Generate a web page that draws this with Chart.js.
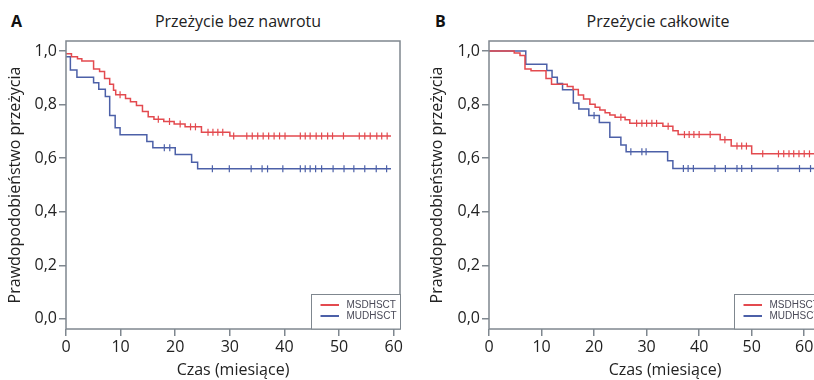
<!DOCTYPE html>
<html>
<head>
<meta charset="utf-8">
<script src="https://cdn.jsdelivr.net/npm/chart.js@4"></script>
<style>
    body { margin: 0; width: 814px; height: 380px; overflow: hidden; background: #fff; position: relative; }
    .panel { position: absolute; top: 0; height: 380px; }
    .letter { position: absolute; top: 10px; font: bold 16px 'Open Sans', sans-serif; color: #111; }
    .title { position: absolute; top: 10px; width: 240px; text-align: center; font: 16px 'Open Sans', sans-serif; color: #222; white-space: nowrap; }
</style>
</head>
<body>
<div class="letter" style="left:11px">A</div>
<div class="title" style="left:118px">Przeżycie bez nawrotu</div>
<div class="letter" style="left:435px">B</div>
<div class="title" style="left:538px">Przeżycie całkowite</div>
<div class="panel" style="left:0;width:410px"><canvas id="chartA" width="410" height="380"></canvas></div>
<div class="panel" style="left:422px;width:430px"><canvas id="chartB" width="430" height="380"></canvas></div>
<script>
// Przeżycie bez nawrotu (panel A)
const rfsTimeMsd = [0, 1.0, 2.1, 2.9, 5.05, 6.15, 7.06, 8.0, 8.7, 9.1, 10.9, 11.8, 12.9, 14.0, 15.05, 16.1, 17.9, 19.8, 21.8, 24.8, 30.0, 59.5];
const rfsSurvMsd = [0.99, 0.979, 0.971, 0.963, 0.933, 0.924, 0.897, 0.876, 0.854, 0.837, 0.823, 0.811, 0.797, 0.774, 0.755, 0.745, 0.737, 0.728, 0.717, 0.697, 0.683, 0.683];
const rfsCensMsd = [9.9, 16.9, 18.95, 20.9, 22.8, 23.7, 26.0, 26.9, 27.8, 28.7, 30.7, 33.1, 34.1, 35.1, 36.1, 37.1, 38.1, 39.1, 40.1, 42.9, 43.8, 44.7, 45.8, 46.8, 47.9, 48.8, 50.8, 53.7, 54.7, 55.7, 56.9, 57.8, 58.8];

const rfsTimeMud = [0, 0.8, 2.0, 5.05, 6.0, 7.2, 8.0, 9.0, 9.9, 14.8, 15.9, 20.0, 23.0, 24.1, 59.5];
const rfsSurvMud = [0.979, 0.929, 0.902, 0.882, 0.857, 0.830, 0.759, 0.714, 0.687, 0.662, 0.639, 0.614, 0.585, 0.560, 0.560];
const rfsCensMud = [18.0, 19.0, 26.8, 29.9, 33.9, 35.9, 36.9, 39.7, 42.9, 43.8, 44.7, 45.7, 46.8, 48.9, 50.9, 52.7, 54.7, 56.8, 58.7];

// Przeżycie całkowite (panel B)
const osTimeMsd = [0, 4.8, 5.9, 6.85, 8.0, 10.85, 11.9, 14.9, 16.0, 17.0, 18.0, 19.2, 20.2, 21.1, 22.1, 23.0, 24.0, 25.9, 26.8, 33.1, 35.0, 36.0, 44.0, 46.1, 50.0, 62.5];
const osSurvMsd = [1.0, 0.993, 0.983, 0.933, 0.926, 0.897, 0.876, 0.868, 0.856, 0.836, 0.821, 0.801, 0.790, 0.780, 0.770, 0.761, 0.753, 0.743, 0.730, 0.719, 0.702, 0.688, 0.669, 0.645, 0.616, 0.616];
const osCensMsd = [25.1, 28.1, 29.1, 30.0, 31.0, 31.9, 34.1, 37.2, 38.1, 39.0, 40.0, 42.1, 44.9, 47.2, 48.1, 49.0, 52.1, 55.1, 56.1, 57.1, 58.0, 59.0, 60.0, 61.0];

const osTimeMud = [0, 7.0, 11.0, 12.0, 13.0, 14.0, 16.05, 17.1, 19.0, 21.0, 23.0, 25.1, 26.1, 34.0, 35.0, 62.5];
const osSurvMud = [1.0, 0.951, 0.927, 0.902, 0.879, 0.855, 0.806, 0.784, 0.759, 0.733, 0.678, 0.649, 0.624, 0.590, 0.561, 0.561];
const osCensMud = [20.0, 27.0, 29.1, 29.9, 37.0, 37.9, 38.9, 43.0, 45.0, 47.2, 48.1, 50.0, 55.0, 59.1, 61.2];

const xTickValues = [0, 10, 20, 30, 40, 50, 60];
const yTickValues = [0, 0.2, 0.4, 0.6, 0.8, 1.0];
const groupNames = ['MSDHSCT', 'MUDHSCT'];

const red = '#e34a4f';
const blue = '#4c60a8';
const frame = '#7f878f';

Chart.defaults.font.family = "'Open Sans', sans-serif";
Chart.defaults.font.size = 16;
Chart.defaults.color = '#222';

const stepPoints = (times, surv) => times.map((t, i) => ({ x: t, y: surv[i] }));

const survAt = (times, surv, t) => {
    let s = surv[0];
    for (let i = 0; i < times.length; i++) {
        if (times[i] <= t) s = surv[i];
    }
    return s;
};

const censorPoints = (cens, times, surv) => cens.map((c) => ({ x: c, y: survAt(times, surv, c) }));

// ramka wykresu + legenda w prawym dolnym rogu
const framePlugin = {
    id: 'kmFrame',
    afterDraw(chart) {
        const { ctx, chartArea: a } = chart;
        ctx.save();
        ctx.strokeStyle = frame;
        ctx.lineWidth = 1.5;
        ctx.strokeRect(a.left, a.top, a.right - a.left, a.bottom - a.top);

        const lx = a.left + 245;
        const ly = a.bottom - 35;
        ctx.fillStyle = '#fff';
        ctx.fillRect(lx, ly, 89, 35);
        ctx.lineWidth = 1;
        ctx.strokeRect(lx + 0.5, ly + 0.5, 89, 34.5);

        ctx.lineWidth = 2;
        [red, blue].forEach((c, i) => {
            const y = ly + 11 + i * 11;
            ctx.strokeStyle = c;
            ctx.beginPath();
            ctx.moveTo(lx + 9.5, y);
            ctx.lineTo(lx + 28, y);
            ctx.stroke();
            ctx.fillStyle = '#4a4a58';
            ctx.font = "10px 'Liberation Sans', Arial, sans-serif";
            ctx.textBaseline = 'middle';
            ctx.fillText(groupNames[i], lx + 35.5, y + 0.5);
        });
        ctx.restore();
    },
};

function makeChart(id, xMax, axisWidth, padRight, series) {
    const datasets = [];
    series.forEach((s) => {
        datasets.push({
            type: 'line',
            data: stepPoints(s.times, s.surv),
            borderColor: s.color,
            borderWidth: 1.5,
            stepped: true,
            pointRadius: 0,
            fill: false,
        });
        datasets.push({
            type: 'scatter',
            data: censorPoints(s.cens, s.times, s.surv),
            borderColor: s.color,
            backgroundColor: s.color,
            pointStyle: 'line',
            rotation: 90,
            pointRadius: 3.5,
            borderWidth: 1.2,
        });
    });

    new Chart(document.getElementById(id), {
        data: { datasets },
        options: {
            responsive: false,
            animation: false,
            layout: { padding: { top: 41, right: padRight, left: 0, bottom: 0 } },
            plugins: { legend: { display: false }, tooltip: { enabled: false } },
            scales: {
                x: {
                    type: 'linear',
                    min: 0,
                    max: xMax,
                    afterBuildTicks: (scale) => { scale.ticks = xTickValues.map((v) => ({ value: v })); },
                    afterFit: (scale) => { scale.height = 51; },
                    border: { display: false },
                    grid: { drawOnChartArea: false, drawTicks: true, tickLength: 7, color: frame, lineWidth: 1.5 },
                    ticks: { padding: 2, maxRotation: 0 },
                    title: { display: true, text: 'Czas (miesiące)', padding: { top: 0, bottom: 0 } },
                },
                y: {
                    type: 'linear',
                    min: -0.038,
                    max: 1.0375,
                    afterBuildTicks: (scale) => { scale.ticks = yTickValues.map((v) => ({ value: v })); },
                    afterFit: (scale) => { scale.width = axisWidth; },
                    border: { display: false },
                    grid: { drawOnChartArea: false, drawTicks: true, tickLength: 7, color: frame, lineWidth: 1.5 },
                    ticks: { padding: 2, callback: (v) => v.toFixed(1).replace('.', ',') },
                    title: { display: true, text: 'Prawdopodobieństwo przeżycia', padding: { top: 6, bottom: 0 } },
                },
            },
        },
        plugins: [framePlugin],
    });
}

makeChart('chartA', 61.15, 66, 10, [
    { times: rfsTimeMsd, surv: rfsSurvMsd, cens: rfsCensMsd, color: red },
    { times: rfsTimeMud, surv: rfsSurvMud, cens: rfsCensMud, color: blue },
]);

makeChart('chartB', 67.0, 67, 11, [
    { times: osTimeMsd, surv: osSurvMsd, cens: osCensMsd, color: red },
    { times: osTimeMud, surv: osSurvMud, cens: osCensMud, color: blue },
]);
</script>
</body>
</html>
